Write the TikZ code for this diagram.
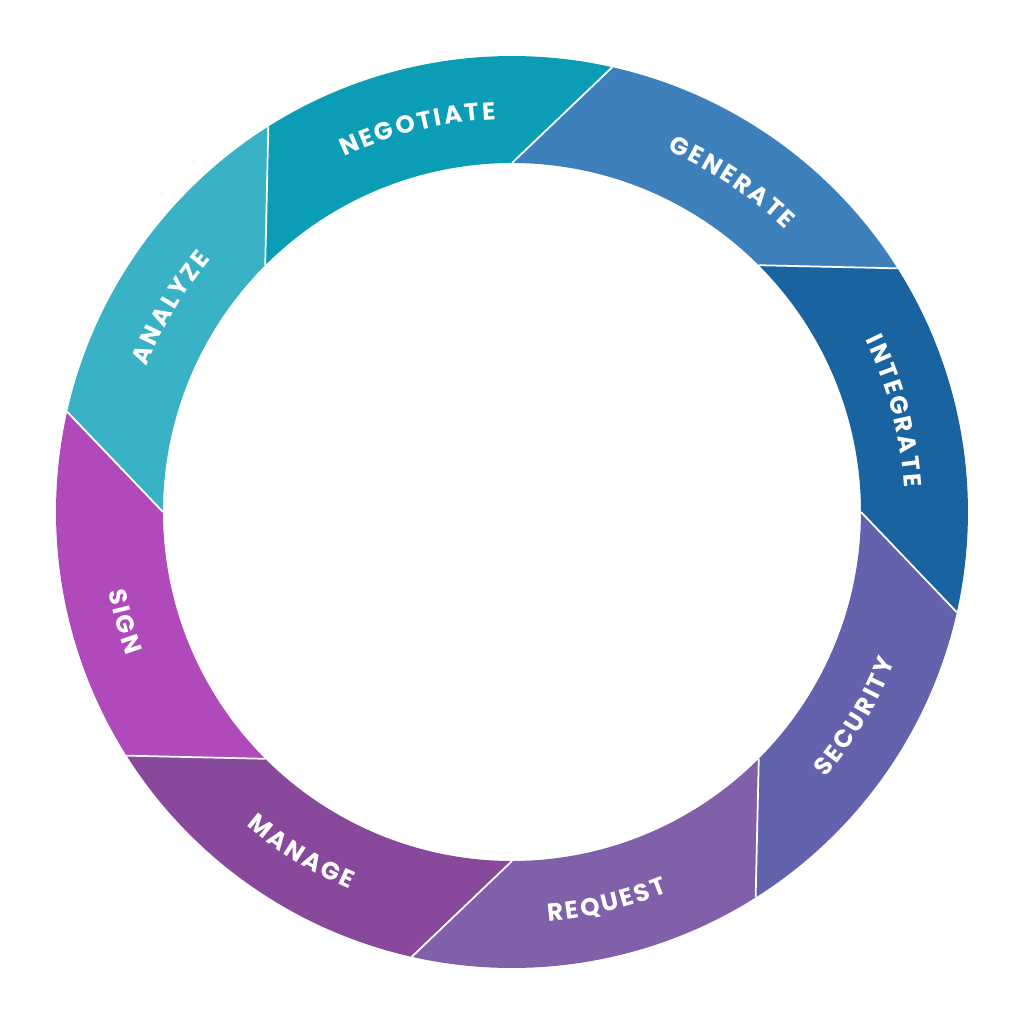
\documentclass[tikz,border=0pt]{standalone}
\usepackage{fontspec}
\setmainfont{Poppins}
\newfontfamily\ringfont{Poppins}[UprightFont=* Bold]
\usetikzlibrary{decorations.text}

\definecolor{negotiatecol}{HTML}{0A9DB5}
\definecolor{generatecol}{HTML}{3D80BC}
\definecolor{integratecol}{HTML}{1963A0}
\definecolor{securitycol}{HTML}{6362AC}
\definecolor{requestcol}{HTML}{8060A9}
\definecolor{managecol}{HTML}{88489C}
\definecolor{signcol}{HTML}{B04ABA}
\definecolor{analyzecol}{HTML}{39B2C6}

\newcommand{\ringin}{3.49}
\newcommand{\ringout}{4.56}
\newcommand{\tilt}{12.7}
% font and letter spacing of the ring labels
\newcommand{\ringstyle}{\ringfont\fontsize{7}{8}\selectfont\kern0.7pt}

\tikzset{every picture/.style={line join=round},
  segment/.style={fill=#1, draw=none},
  divider/.style={draw=white, line width=0.5pt},
  ringlabel/.style={decorate, decoration={text along path, text align=center, text color=white}}}

\begin{document}
\begin{tikzpicture}
        \fill[white] (-5.12,-5.12) rectangle (5.12,5.12);
        \useasboundingbox (-5.12,-5.12) rectangle (5.12,5.12);

        % ring segments, inner edge from \a to \a-45
        \foreach \a/\col in {
          135/negotiatecol, 90/generatecol, 45/integratecol, 0/securitycol,
          -45/requestcol, -90/managecol, -135/signcol, 180/analyzecol}
        \fill[segment=\col] (\a:\ringin) arc[start angle=\a, end angle=\a-45, radius=\ringin]
          -- ({\a-45-\tilt}:\ringout) arc[start angle=\a-45-\tilt, end angle=\a-\tilt, radius=\ringout] -- cycle;

        % slanted dividers
        \foreach \a in {90,45,...,-225}
        \draw[divider] (\a:\ringin) -- ({\a-\tilt}:\ringout);

        % labels on the upper half, read clockwise
        \foreach \lbl/\t in {NEGOTIATE/104, GENERATE/56.5, INTEGRATE/15, ANALYZE/149.3}
        \path[ringlabel, decoration={text/.expanded={|\noexpand\ringstyle|\lbl}}]
          ({\t+40}:3.93) arc[start angle=\t+40, end angle=\t-40, radius=3.93];

        % labels on the lower half, read counter-clockwise
        \foreach \lbl/\t in {SECURITY/-31, REQUEST/-76.5, MANAGE/-122, SIGN/-164.4}
        \path[ringlabel, decoration={text/.expanded={|\noexpand\ringstyle|\lbl}}]
          ({\t-40}:4.11) arc[start angle=\t-40, end angle=\t+40, radius=4.11];
\end{tikzpicture}
\end{document}
